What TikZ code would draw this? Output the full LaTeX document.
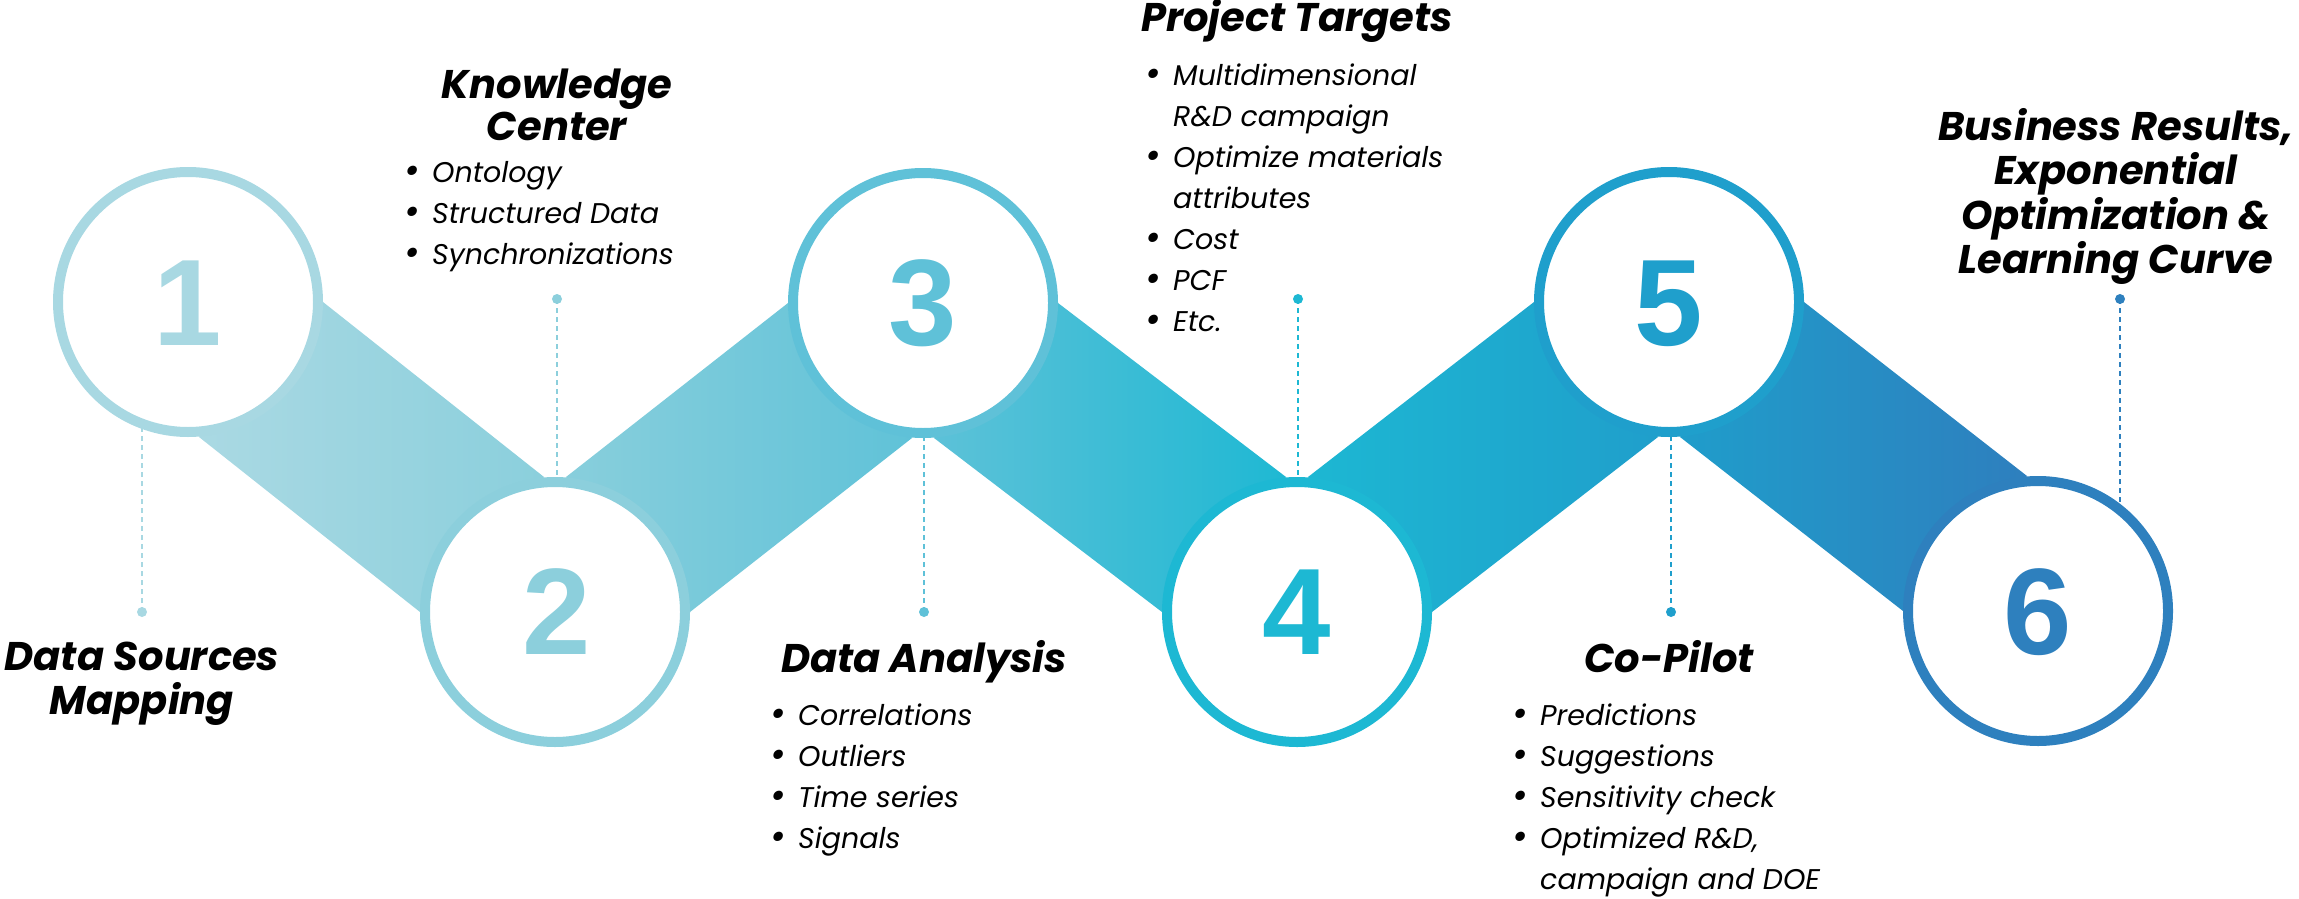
\documentclass[tikz,border=0pt]{standalone}
\usepackage{fontspec}
\setmainfont{Poppins}
\newfontfamily\digitfont{Liberation Sans}
\usetikzlibrary{calc}
\definecolor{cA}{HTML}{AAD9E3}
\definecolor{cB}{HTML}{8ACFDC}
\definecolor{cC}{HTML}{5FC2D8}
\definecolor{cD}{HTML}{1DB8D3}
\definecolor{cE}{HTML}{1F9ECB}
\definecolor{cF}{HTML}{2E7FBE}
\definecolor{rA}{HTML}{A8D8E2}
\definecolor{rB}{HTML}{8CCFDC}
\definecolor{rC}{HTML}{5FC1D8}
\definecolor{rD}{HTML}{1DB8D3}
\definecolor{rE}{HTML}{1F9FCC}
\definecolor{rF}{HTML}{2E80BE}
\definecolor{ink}{HTML}{000000}
\pgfdeclarehorizontalshading{bandshade}{100bp}{color(0bp)=(cA); color(25bp)=(cA); color(34.6bp)=(cB); color(44.7bp)=(cC); color(55bp)=(cD); color(65.2bp)=(cE); color(75bp)=(cF); color(100bp)=(cF)}
\newcommand{\bul}{\raisebox{-1.5pt}{\fontsize{38}{38}\selectfont\textbullet}}
\begin{document}
\begin{tikzpicture}[x=1pt,y=-1pt,
  ring/.style={circle, draw=#1, line width=10pt, fill=white, minimum size=260pt, inner sep=0pt},
  digit/.style={text=#1, font=\digitfont\bfseries\fontsize{123}{123}\selectfont, anchor=base, inner sep=0pt},
  lead/.style={draw=#1, line width=2pt, dash pattern=on 5pt off 4pt},
  dotm/.style={circle, fill=#1, inner sep=0pt, minimum size=10pt},
  title/.style={text=ink, font=\bfseries\itshape\fontsize{40}{42}\selectfont, anchor=base, inner sep=0pt},
  items/.style={text=ink, font=\itshape\fontsize{28.5}{41}\selectfont, anchor=base west, inner sep=0pt}]
\useasboundingbox (0,0) rectangle (2299,899);
\coordinate (c1) at (188,302);
\coordinate (c2) at (555,612);
\coordinate (c3) at (923,303);
\coordinate (c4) at (1297,612);
\coordinate (c5) at (1669,302);
\coordinate (c6) at (2038,611);
% bands
\shade[shading=bandshade]
  ($(c1)+(135,0)$) -- ($(c2)+(-11,-135)$) -- ($(c2)+(-135,0)$) -- ($(c1)+(11,135)$) -- cycle
  ($(c2)+(11,-135)$) -- ($(c3)+(-135,0)$) -- ($(c3)+(-11,135)$) -- ($(c2)+(135,0)$) -- cycle
  ($(c3)+(135,0)$) -- ($(c4)+(-11,-135)$) -- ($(c4)+(-135,0)$) -- ($(c3)+(11,135)$) -- cycle
  ($(c4)+(11,-135)$) -- ($(c5)+(-135,0)$) -- ($(c5)+(-11,135)$) -- ($(c4)+(135,0)$) -- cycle
  ($(c5)+(135,0)$) -- ($(c6)+(-11,-135)$) -- ($(c6)+(-135,0)$) -- ($(c5)+(11,135)$) -- cycle;
% leader dots and dashed lines
\node[dotm=rA] (p1) at (142,612) {};
\node[dotm=rB] (p2) at (557,299) {};
\node[dotm=rC] (p3) at (924,612) {};
\node[dotm=rD] (p4) at (1298,299) {};
\node[dotm=rE] (p5) at (1671,612) {};
\node[dotm=rF] (p6) at (2120,299) {};
\draw[lead=rA] (p1.center) -- (p1.center |- c1);
\draw[lead=rB] (p2.center) -- (p2.center |- c2);
\draw[lead=rC] (p3.center) -- (p3.center |- c3);
\draw[lead=rD] (p4.center) -- (p4.center |- c4);
\draw[lead=rE] (p5.center) -- (p5.center |- c5);
\draw[lead=rF] (p6.center) -- (p6.center |- c6);
% circles
\node[ring=rA] (n1) at (c1) {};
\node[ring=rB] (n2) at (c2) {};
\node[ring=rC] (n3) at (c3) {};
\node[ring=rD] (n4) at (c4) {};
\node[ring=rE] (n5) at (c5) {};
\node[ring=rF] (n6) at (c6) {};
\node[digit=rA] (d1) at (188,345) {1};
\node[digit=rB] (d2) at (557,654) {2};
\node[digit=rC] (d3) at (923,345) {3};
\node[digit=rD] (d4) at (1297,654) {4};
\node[digit=rE] (d5) at (1669,345) {5};
\node[digit=rF] (d6) at (2038,654) {6};
% titles
\node[title] (t1) at (142,670) {\begin{tabular}[t]{@{}c@{}}Data Sources\\Mapping\end{tabular}};
\node[title] (t2) at (557,98) {\begin{tabular}[t]{@{}c@{}}Knowledge\\Center\end{tabular}};
\node[title] (t3) at (924,672) {Data Analysis};
\node[title] (t4) at (1297,32) {Project Targets};
\node[title] (t5) at (1669,672) {Co-Pilot};
\node[title] (t6) at (2116,140) {\begin{tabular}[t]{@{}c@{}}Business Results,\\Exponential\\Optimization \&\\Learning Curve\end{tabular}};
% item lists
\node[items] (l2) at (404,182) {\begin{tabular}[t]{@{}p{28pt}@{}l@{}}\bul & Ontology\\ \bul & Structured Data\\ \bul & Synchronizations\end{tabular}};
\node[items] (l3) at (770,725) {\begin{tabular}[t]{@{}p{28pt}@{}l@{}}\bul & Correlations\\ \bul & Outliers\\ \bul & Time series\\ \bul & Signals\end{tabular}};
\node[items] (l4) at (1145,85) {\begin{tabular}[t]{@{}p{28pt}@{}l@{}}\bul & Multidimensional\\ & R\&D campaign\\ \bul & Optimize materials\\ & attributes\\ \bul & Cost\\ \bul & PCF\\ \bul & Etc.\end{tabular}};
\node[items] (l5) at (1512,725) {\begin{tabular}[t]{@{}p{28pt}@{}l@{}}\bul & Predictions\\ \bul & Suggestions\\ \bul & Sensitivity check\\ \bul & Optimized R\&D,\\ & campaign and DOE\end{tabular}};
\end{tikzpicture}
\end{document}
